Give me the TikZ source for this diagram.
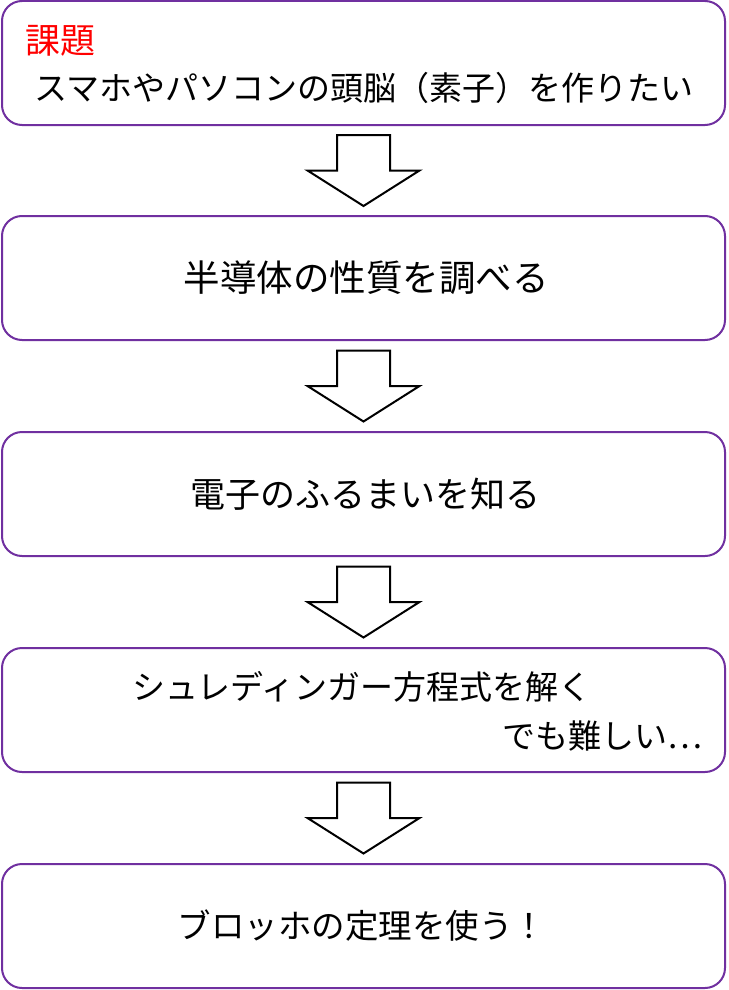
\documentclass[tikz,border=0pt]{standalone}
\usepackage{fontspec}
\setmainfont{Noto Sans CJK JP}
\usepackage{tikz}
\usetikzlibrary{positioning, calc}

\definecolor{boxpurple}{HTML}{7030A0}

\begin{document}
\begin{tikzpicture}[x=1pt, y=1pt,
        stage/.style={rectangle, draw=boxpurple, fill=white, line width=2pt, rounded corners=20pt, minimum width=723pt, minimum height=124pt, inner sep=0pt},
        txt/.style={inner sep=0pt, font=\fontsize{33}{45}\selectfont},
        bigtxt/.style={inner sep=0pt, font=\fontsize{36}{45}\selectfont},
        downarrow/.style={draw=black, fill=white, line width=2pt, line join=miter}
    ]
        \useasboundingbox (0,0) rectangle (728,-990);

        % Stage 1
        \node[stage] (s1) at (363.5, -63) {};
        \node[txt, anchor=west, text=red, font=\fontsize{35}{45}\selectfont] (s1h) at (25, -41) {課題};
        \node[txt] (s1t) at (364, -88) {スマホやパソコンの頭脳（素子）を作りたい};

        % Stage 2
        \node[stage] (s2) at (363.5, -278) {};
        \node[bigtxt, font=\fontsize{36.5}{45}\selectfont] (s2t) at (366, -278) {半導体の性質を調べる};

        % Stage 3
        \node[stage] (s3) at (363.5, -494) {};
        \node[bigtxt, font=\fontsize{35}{45}\selectfont] (s3t) at (365, -494) {電子のふるまいを知る};

        % Stage 4
        \node[stage] (s4) at (363.5, -710) {};
        \node[txt, anchor=west] (s4t) at (132, -687) {シュレディンガー方程式を解く};
        \node[txt, anchor=east] (s4n) at (703, -736) {でも難しい…};

        % Stage 5
        \node[stage] (s5) at (363.5, -926) {};
        \node[txt, font=\fontsize{33.5}{45}\selectfont] (s5t) at (362, -926) {ブロッホの定理を使う！};

        % Block arrows
        \foreach \a/\b in {s1/s2, s2/s3, s3/s4, s4/s5} {
            \coordinate (m) at ($(\a.south)!0.5!(\b.north)$);
            \draw[downarrow] ($(m)+(-26.5,35.5)$) -- ($(m)+(26.5,35.5)$) -- ($(m)+(26.5,0)$)
                -- ($(m)+(56,0)$) -- ($(m)+(0,-35.5)$) -- ($(m)+(-56,0)$)
                -- ($(m)+(-26.5,0)$) -- cycle;
        }
\end{tikzpicture}
\end{document}
